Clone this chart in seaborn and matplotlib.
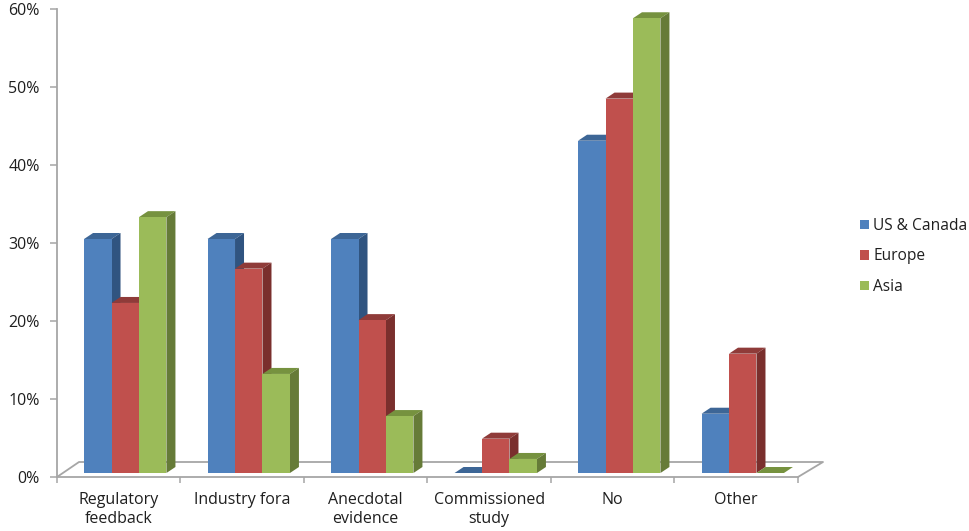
import matplotlib
matplotlib.use("Agg")
import matplotlib.pyplot as plt
import pandas as pd
import seaborn as sns
from matplotlib.lines import Line2D
from matplotlib.patches import Polygon
from matplotlib.ticker import PercentFormatter, FixedLocator
from matplotlib.transforms import ScaledTranslation

categories = ["Regulatory\nfeedback", "Industry fora", "Anecdotal\nevidence",
              "Commissioned\nstudy", "No", "Other"]
us_canada = [30.0, 30.0, 30.0, 0.0, 42.6, 7.6]
europe = [21.8, 26.2, 19.6, 4.4, 48.0, 15.3]
asia = [32.8, 12.7, 7.3, 1.8, 58.3, 0.0]
series_names = ["US & Canada", "Europe", "Asia"]
front_colors = ["#4F81BD", "#C0504D", "#9BBB59"]
top_colors = ["#3D6696", "#8F3B39", "#76923F"]
side_colors = ["#305480", "#7A2F2D", "#667B38"]

W, H = 970, 531
AX_COL = "#A6A6A6"
TXT = "#1f1f1f"
FS = 11.5

df = pd.DataFrame({
    "category": categories * 3,
    "series": sum([[n] * len(categories) for n in series_names], []),
    "value": us_canada + europe + asia,
})

sns.set_theme(style="white")
plt.rcParams["font.family"] = ["Open Sans", "DejaVu Sans"]

fig = plt.figure(figsize=(W / 100, H / 100), dpi=100)
ax = fig.add_axes([57 / W, 1 - 477 / H, 741 / W, 468 / H])
sns.barplot(data=df, x="category", y="value", hue="series", order=categories,
            hue_order=series_names, palette=front_colors, width=0.667, gap=0,
            saturation=1, legend=False, ax=ax, errorbar=None)

ax.set_xlim(-0.5, 5.5)
ax.set_ylim(0, 60)
ax.set_xlabel("")
ax.set_ylabel("")
ax.yaxis.set_major_formatter(PercentFormatter(decimals=0))
ax.set_yticks(range(0, 61, 10))
ax.xaxis.set_minor_locator(FixedLocator([i - 0.5 for i in range(7)]))
ax.tick_params(axis="y", which="major", left=True, length=5, width=1.1, color=AX_COL,
               pad=7.5, labelsize=FS, labelcolor=TXT)
ax.tick_params(axis="x", which="major", bottom=False, length=0, pad=10.5,
               labelsize=FS, labelcolor=TXT)
ax.tick_params(axis="x", which="minor", bottom=True, length=4, width=1.1, color=AX_COL)
for lab in ax.get_xticklabels():
    lab.set_linespacing(1.25)
for name, spine in ax.spines.items():
    spine.set_visible(name in ("left", "bottom"))
    spine.set_color(AX_COL)
    spine.set_linewidth(1.3)
ax.patch.set_alpha(0)

# Floor of the pseudo-3D plot, in pixels relative to the axes corners
to_disp = ax.transAxes
floor_dx_l, floor_dx_r, floor_dy = 22, 25, 15
p0 = to_disp.transform((0, 0))
p1 = to_disp.transform((1, 0))
fx = [p0[0], p0[0] + floor_dx_l, p1[0] + floor_dx_r, p1[0]]
fy = [p0[1], p0[1] + floor_dy, p1[1] + floor_dy, p1[1]]
fig.add_artist(Line2D(fx, fy, color=AX_COL, lw=1.3, transform=None, zorder=-1))

# Bars are shifted onto the floor and extruded in depth
shift_x, shift_y = 6.5, 4
depth_x, depth_y = 9, 6
offset = ScaledTranslation(shift_x / 100, shift_y / 100, fig.dpi_scale_trans)
for s, cont in enumerate(ax.containers):
    for c, bar in enumerate(cont.patches):
        z = 3 + c * 3 + s * 0.9
        x0, w, h = bar.get_x(), bar.get_width(), bar.get_height()
        (xl, yb), (xr, yt) = (ax.transData + offset).transform([(x0, 0), (x0 + w, h)])
        bar.set_transform(ax.transData + offset)
        bar.set_zorder(z + 0.2)
        bar.set_clip_on(False)
        bar.set_linewidth(0)
        top = [(xl, yt), (xl + depth_x, yt + depth_y), (xr + depth_x, yt + depth_y), (xr, yt)]
        side = [(xr, yb), (xr + depth_x, yb + depth_y), (xr + depth_x, yt + depth_y), (xr, yt)]
        ax.add_patch(Polygon(top, closed=True, fc=top_colors[s], ec="none",
                             transform=None, zorder=z, clip_on=False))
        if h > 0:
            ax.add_patch(Polygon(side, closed=True, fc=side_colors[s], ec="none",
                                 transform=None, zorder=z, clip_on=False))

handles = [plt.Rectangle((0, 0), 1, 1, fc=col, ec="none") for col in front_colors]
ax.legend(handles, series_names, loc="center left",
          bbox_to_anchor=(860 / W, 1 - 256.5 / H), bbox_transform=fig.transFigure,
          frameon=False, fontsize=11.2, labelcolor=TXT, handlelength=0.55, handleheight=0.55,
          handletextpad=0.3, labelspacing=0.92, borderpad=0, borderaxespad=0)

fig.savefig("out.png", dpi=100, facecolor="white")
